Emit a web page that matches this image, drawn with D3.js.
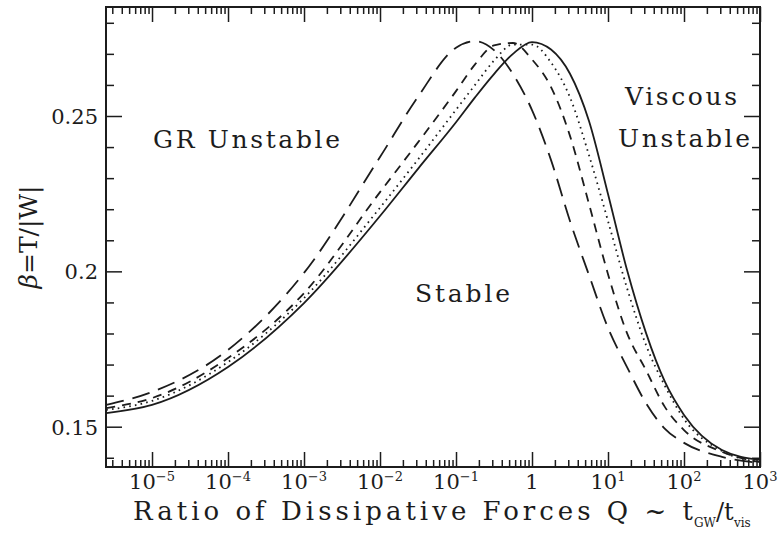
<!DOCTYPE html>
<html>
<head>
<meta charset="utf-8">
<script src="https://cdn.jsdelivr.net/npm/d3@7"></script>
<style>
  body { margin: 0; background: #fff; }
  text { font-family: "DejaVu Serif", serif; fill: #1c1c1c; }
</style>
</head>
<body>
<svg id="chart" width="778" height="535"></svg>
<script>
// Q grid (ratio of dissipative forces) shared by all curves
const qValues = [2.5e-6, 1e-5, 1e-4, 1e-3, 1e-2, 0.0316, 0.1, 0.178, 0.316, 0.562, 1,
                 1.78, 3.16, 5.62, 10, 17.8, 31.6, 56.2, 100, 316, 1000];
// beta = T/|W| for each curve
const betaSolid = [0.1544, 0.1570, 0.1692, 0.1898, 0.2178, 0.2330, 0.2480, 0.2560, 0.2635, 0.2700, 0.2738,
                   0.2714, 0.2636, 0.2484, 0.2249, 0.2004, 0.1802, 0.1644, 0.1538, 0.1425, 0.1393];
const betaDotted = [0.1554, 0.1583, 0.1708, 0.1914, 0.2205, 0.2360, 0.2520, 0.2600, 0.2678, 0.2730, 0.2730,
                    0.2672, 0.2560, 0.2374, 0.2162, 0.1946, 0.1763, 0.1631, 0.1525, 0.1422, 0.1386];
const betaShortDash = [0.1560, 0.1592, 0.1721, 0.1930, 0.2255, 0.2415, 0.2580, 0.2666, 0.2727, 0.2735, 0.2682,
                       0.2593, 0.2436, 0.2217, 0.1991, 0.1801, 0.1682, 0.1563, 0.1489, 0.1419, 0.1386];
const betaLongDash = [0.1570, 0.1612, 0.1747, 0.1995, 0.2368, 0.2562, 0.2720, 0.2741, 0.2712, 0.2635, 0.2519,
                      0.2358, 0.2162, 0.1988, 0.1818, 0.1692, 0.1576, 0.1493, 0.1448, 0.1403, 0.1383];

const xDecades = [-5, -4, -3, -2, -1, 0, 1, 2, 3];
const yMajorTicks = [0.15, 0.2, 0.25];
const yTickLabels = ["0.15", "0.2", "0.25"];

const svg = d3.select("#chart");
const plotLeft = 106, plotRight = 760, plotTop = 7, plotBottom = 467;

const x = d3.scaleLog().domain([2.48e-6, 1000]).range([plotLeft, plotRight]);
const y = d3.scaleLinear().domain([0.13703, 0.28508]).range([plotBottom, plotTop]);

// tick values
const xMajor = xDecades.map(d => Math.pow(10, d));
const xMinor = [];
for (let d = -6; d < 3; d++) {
  for (let m = 2; m <= 9; m++) {
    const v = m * Math.pow(10, d);
    if (v > x.domain()[0] && v < 1000) xMinor.push(v);
  }
}
const yMinor = d3.range(14, 29).map(i => i / 100).filter(v => !yMajorTicks.includes(v));

function drawAxis(axisFn, scale, values, size, transform) {
  const g = svg.append("g")
    .attr("transform", transform)
    .call(axisFn(scale).tickValues(values).tickSize(-size).tickFormat(""));
  g.select(".domain").remove();
  g.selectAll(".tick line").attr("stroke", "#1c1c1c").attr("stroke-width", 1.5);
}

drawAxis(d3.axisBottom, x, xMinor, 7, `translate(0,${plotBottom})`);
drawAxis(d3.axisBottom, x, xMajor, 15, `translate(0,${plotBottom})`);
drawAxis(d3.axisTop, x, xMinor, 7, `translate(0,${plotTop})`);
drawAxis(d3.axisTop, x, xMajor, 15, `translate(0,${plotTop})`);
drawAxis(d3.axisLeft, y, yMinor, 8, `translate(${plotLeft},0)`);
drawAxis(d3.axisLeft, y, yMajorTicks, 16, `translate(${plotLeft},0)`);
drawAxis(d3.axisRight, y, yMinor, 8, `translate(${plotRight},0)`);
drawAxis(d3.axisRight, y, yMajorTicks, 16, `translate(${plotRight},0)`);

// frame
svg.append("rect")
  .attr("x", plotLeft).attr("y", plotTop)
  .attr("width", plotRight - plotLeft).attr("height", plotBottom - plotTop)
  .attr("fill", "none").attr("stroke", "#1c1c1c").attr("stroke-width", 2);

// curves
const line = d3.line()
  .x(d => x(d[0]))
  .y(d => y(d[1]))
  .curve(d3.curveMonotoneX);

const curves = [
  { beta: betaSolid, dash: null },
  { beta: betaDotted, dash: "1.6,4.2" },
  { beta: betaShortDash, dash: "9,7" },
  { beta: betaLongDash, dash: "18,9" }
];

curves.forEach(c => {
  svg.append("path")
    .datum(qValues.map((q, i) => [q, c.beta[i]]))
    .attr("d", line)
    .attr("fill", "none")
    .attr("stroke", "#1c1c1c")
    .attr("stroke-width", 1.8)
    .attr("stroke-dasharray", c.dash);
});

// y tick labels
svg.selectAll(".ylab")
  .data(yMajorTicks)
  .enter()
  .append("text")
  .attr("x", 98)
  .attr("y", d => y(d) + 8)
  .attr("text-anchor", "end")
  .style("font-size", "21px")
  .text((d, i) => yTickLabels[i]);

// x tick labels
xDecades.forEach(d => {
  const t = svg.append("text")
    .attr("x", x(Math.pow(10, d)))
    .attr("y", 489)
    .attr("text-anchor", "middle")
    .style("font-size", "21px");
  if (d === 0) {
    t.text("1");
  } else {
    t.append("tspan").text("10");
    t.append("tspan").attr("dy", -8).style("font-size", "13px")
      .text(d < 0 ? "\u2212" + (-d) : String(d));
  }
});

// x axis title
svg.append("text")
  .attr("x", 133).attr("y", 520)
  .attr("textLength", 560).attr("lengthAdjust", "spacing")
  .style("font-size", "26px")
  .text("Ratio of Dissipative Forces Q ~ t");
svg.append("text").attr("x", 694).attr("y", 527).style("font-size", "12px").text("GW");
svg.append("text").attr("x", 716).attr("y", 520).style("font-size", "24px").text("/t");
svg.append("text").attr("x", 734).attr("y", 527).style("font-size", "12px").text("vis");

// y axis title
const yt = svg.append("text")
  .attr("transform", "translate(37,237) rotate(-90)")
  .attr("text-anchor", "middle")
  .style("font-size", "25px");
yt.append("tspan").style("font-style", "italic").text("\u03b2");
yt.append("tspan").text("=T/|W|");

// region labels
function region(txt, xPos, yPos, width) {
  svg.append("text")
    .attr("x", xPos).attr("y", yPos)
    .attr("textLength", width).attr("lengthAdjust", "spacing")
    .style("font-size", "25px")
    .text(txt);
}
region("GR Unstable", 153, 148, 187);
region("Viscous", 625, 105, 112);
region("Unstable", 618, 147, 132);
region("Stable", 415, 302, 95);
</script>
</body>
</html>
